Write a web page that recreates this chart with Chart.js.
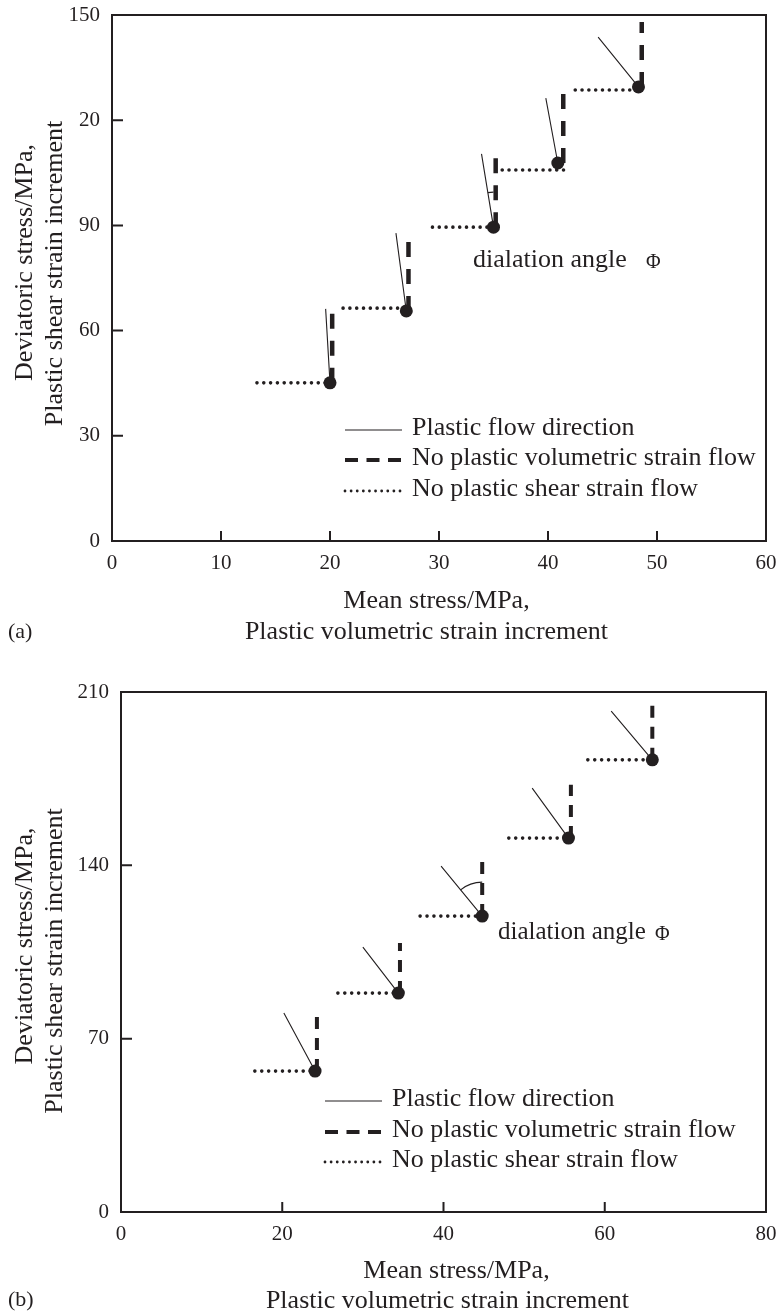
<!DOCTYPE html>
<html>
<head>
<meta charset="utf-8">
<title>Plastic flow directions</title>
<script src="https://cdn.jsdelivr.net/npm/chart.js@4.4.1/dist/chart.umd.min.js"></script>
<style>
  html, body { margin: 0; padding: 0; background: #ffffff; overflow: hidden; }
  .panel { position: absolute; left: 0; width: 777px; }
  #panelA { top: 0; height: 660px; }
  #panelB { top: 650px; height: 680px; }
</style>
</head>
<body>
<div id="panelA" class="panel"><canvas id="chartA" width="777" height="660"></canvas></div>
<div id="panelB" class="panel"><canvas id="chartB" width="777" height="680"></canvas></div>
<script>
// ---------- panel (a) ----------
const meanA       = [20.0, 27.0, 35.0, 40.9, 48.3];     // mean stress at each yield point
const devA        = [45.1, 65.6, 89.5, 107.8, 129.5];   // deviatoric stress at each yield point
const shearFromA  = [13.3, 21.2, 29.4, 35.8, 42.5];     // horizontal (no shear strain) segment, left end
const shearToA    = [20.0, 27.0, 35.0, 41.7, 48.4];     // horizontal segment, right end
const shearLevelA = [45.1, 66.4, 89.5, 105.8, 128.6];   // horizontal segment level
const volXA       = [20.2, 27.2, 35.2, 41.4, 48.6];     // vertical (no volumetric strain) segment position
const volTopA     = [66.4, 88.7, 110.9, 127.7, 148.0];  // vertical segment, upper end
const flowTipXA   = [19.6, 26.05, 33.9, 39.8, 44.6];    // plastic flow direction, end point
const flowTipYA   = [66.2, 87.8, 110.4, 126.3, 143.7];
const xTicksA     = [0, 10, 20, 30, 40, 50, 60];
const yTicksA     = [0, 30, 60, 90, 120, 150];
const yTickLabelsA = ['0', '30', '60', '90', '20', '150'];

// ---------- panel (b) ----------
const meanB       = [24.07, 34.4, 44.8, 55.5, 65.9];
const devB        = [56.9, 88.4, 119.5, 151.0, 182.6];
const shearFromB  = [16.6, 26.9, 37.1, 48.1, 57.9];
const shearToB    = [24.07, 34.4, 44.8, 55.5, 65.9];
const shearLevelB = [56.9, 88.4, 119.5, 151.0, 182.6];
const volXB       = [24.3, 34.6, 44.8, 55.8, 65.9];
const volTopB     = [80.4, 108.6, 141.4, 172.5, 204.8];
const flowTipXB   = [20.2, 30.0, 39.7, 51.0, 60.8];
const flowTipYB   = [80.4, 107.0, 139.7, 171.2, 202.3];
const xTicksB     = [0, 20, 40, 60, 80];
const yTicksB     = [0, 70, 140, 210];
const yTickLabelsB = ['0', '70', '140', '210'];

// ---------- shared text ----------
const legendLabels = ['Plastic flow direction', 'No plastic volumetric strain flow', 'No plastic shear strain flow'];
const xTitle = ['Mean stress/MPa,', 'Plastic volumetric strain increment'];
const yTitle = ['Deviatoric stress/MPa,', 'Plastic shear strain increment'];
const noteText = 'dialation angle';
const noteSymbol = '\u03A6';

const FONT = "'Liberation Serif', 'Times New Roman', Times, serif";
const INK = '#231f20';

// Builds the point, segment and flow-direction series for one panel.
function buildDatasets(d) {
  const points = d.mean.map((x, i) => ({ x, y: d.dev[i] }));
  const shear = [], vol = [], flow = [];
  d.mean.forEach((x, i) => {
    shear.push({ x: d.shearFrom[i], y: d.shearLevel[i] }, { x: d.shearTo[i], y: d.shearLevel[i] }, { x: d.shearTo[i], y: null });
    vol.push({ x: d.volX[i], y: d.dev[i] }, { x: d.volX[i], y: d.volTop[i] }, { x: d.volX[i], y: null });
    flow.push({ x, y: d.dev[i] }, { x: d.tipX[i], y: d.tipY[i] }, { x: d.tipX[i], y: null });
  });
  const lineBase = { showLine: true, pointRadius: 0, pointHoverRadius: 0, pointHitRadius: 0, spanGaps: false, tension: 0, fill: false };
  return [
    { label: 'points', data: points, showLine: false, pointRadius: 6.5, pointHoverRadius: 6.5,
      pointBackgroundColor: INK, pointBorderWidth: 0, backgroundColor: INK },
    Object.assign({ label: legendLabels[0], data: flow, borderColor: INK, borderWidth: 1.1 }, lineBase),
    Object.assign({ label: legendLabels[1], data: vol, borderColor: INK, borderWidth: d.dashWidth,
      borderDash: d.dash, borderCapStyle: 'butt' }, lineBase),
    Object.assign({ label: legendLabels[2], data: shear, borderColor: INK, borderWidth: 3.6,
      borderDash: [0.01, d.dotGap], borderCapStyle: 'round' }, lineBase)
  ];
}

// Frame, inward tick marks, axis titles, in-plot legend, dilation-angle note and panel tag.
const overlayPlugin = {
  id: 'overlay',
  afterDatasetsDraw(chart, args, o) {
    const ctx = chart.ctx;
    const { left, right, top, bottom } = chart.chartArea;
    const xs = chart.scales.x, ys = chart.scales.y;
    ctx.save();
    ctx.strokeStyle = INK;
    ctx.fillStyle = INK;

    // inward ticks
    ctx.lineWidth = 2;
    ctx.setLineDash([]);
    ctx.beginPath();
    xs.ticks.forEach(t => {
      const px = xs.getPixelForValue(t.value);
      ctx.moveTo(px, bottom); ctx.lineTo(px, bottom - o.tickLen);
    });
    ys.ticks.forEach(t => {
      const py = ys.getPixelForValue(t.value);
      ctx.moveTo(left, py); ctx.lineTo(left + o.tickLen + 1, py);
    });
    ctx.stroke();

    // frame
    ctx.lineWidth = 2;
    ctx.strokeRect(left, top, right - left, bottom - top);

    // dilation angle arc at the chosen yield point
    const ds = chart.data.datasets;
    const p = ds[0].data[o.arc.index];
    const tip = ds[1].data[o.arc.index * 3 + 1];
    const cx = xs.getPixelForValue(p.x), cy = ys.getPixelForValue(p.y);
    const a0 = Math.atan2(ys.getPixelForValue(tip.y) - cy, xs.getPixelForValue(tip.x) - cx);
    ctx.lineWidth = 1.1;
    ctx.beginPath();
    ctx.arc(cx, cy, o.arc.r, a0, -Math.PI / 2);
    ctx.stroke();

    // axis titles, two lines each
    ctx.font = '26px ' + FONT;
    ctx.textBaseline = 'middle';
    ctx.textAlign = 'center';
    xTitle.forEach((line, i) => ctx.fillText(line, o.xTitle.cx[i], o.xTitle.cy[i]));
    yTitle.forEach((line, i) => {
      ctx.save();
      ctx.translate(o.yTitle.cx[i], o.yTitle.cy[i]);
      ctx.rotate(-Math.PI / 2);
      ctx.fillText(line, 0, 0);
      ctx.restore();
    });

    // legend
    const L = o.legend;
    ctx.textAlign = 'left';
    L.rows.forEach((y, i) => {
      ctx.beginPath();
      if (i === 0) { ctx.lineWidth = 1.1; ctx.setLineDash([]); ctx.lineCap = 'butt'; }
      if (i === 1) { ctx.lineWidth = 4; ctx.setLineDash([13, 8.5]); ctx.lineCap = 'butt'; }
      if (i === 2) { ctx.lineWidth = 2.8; ctx.setLineDash([0.01, 6.1]); ctx.lineCap = 'round'; }
      ctx.moveTo(L.x0, y); ctx.lineTo(L.x1, y);
      ctx.stroke();
      ctx.setLineDash([]);
      ctx.fillText(ds[i + 1].label, L.textX, y - 2);
    });

    // note
    ctx.font = o.note.size + 'px ' + FONT;
    ctx.fillText(noteText, o.note.x, o.note.y);
    ctx.font = '20px ' + FONT;
    ctx.fillText(noteSymbol, o.note.symX, o.note.y + 3);

    // panel tag
    ctx.font = '22px ' + FONT;
    ctx.fillText(o.tag.text, o.tag.x, o.tag.y);
    ctx.restore();
  }
};

// Scales keep their fixed box; label overhang must not shrink the plot area.
function clearPadding(s) {
  s.paddingTop = 0; s.paddingBottom = 0; s.paddingLeft = 0; s.paddingRight = 0;
}

function makeChart(id, d) {
  return new Chart(document.getElementById(id), {
    type: 'scatter',
    data: { datasets: buildDatasets(d) },
    plugins: [overlayPlugin],
    options: {
      responsive: false,
      devicePixelRatio: 1,
      animation: false,
      events: [],
      layout: { padding: { left: 0, right: 11, top: d.padTop, bottom: 0 } },
      plugins: {
        legend: { display: false },
        tooltip: { enabled: false },
        overlay: d.overlay
      },
      scales: {
        x: {
          type: 'linear', position: 'bottom', min: d.xTicks[0], max: d.xTicks[d.xTicks.length - 1],
          afterBuildTicks: s => { s.ticks = d.xTicks.map(v => ({ value: v })); },
          afterFit: s => { s.height = d.xAxisHeight; clearPadding(s); },
          grid: { display: false, drawTicks: false },
          border: { display: false },
          ticks: { padding: 10, color: INK, font: { family: FONT, size: 21 }, autoSkip: false, maxRotation: 0 },
          title: { display: false }
        },
        y: {
          type: 'linear', position: 'left', min: d.yTicks[0], max: d.yTicks[d.yTicks.length - 1],
          afterBuildTicks: s => { s.ticks = d.yTicks.map(v => ({ value: v })); },
          afterFit: s => { s.width = d.yAxisWidth; clearPadding(s); },
          grid: { display: false, drawTicks: false },
          border: { display: false },
          ticks: { padding: 12, color: INK, font: { family: FONT, size: 21 }, autoSkip: false,
            callback: v => d.yTickLabels[d.yTicks.indexOf(v)] },
          title: { display: false }
        }
      }
    }
  });
}

makeChart('chartA', {
  mean: meanA, dev: devA, shearFrom: shearFromA, shearTo: shearToA, shearLevel: shearLevelA,
  volX: volXA, volTop: volTopA, tipX: flowTipXA, tipY: flowTipYA,
  xTicks: xTicksA, yTicks: yTicksA, yTickLabels: yTickLabelsA,
  dash: [15, 12], dashWidth: 4.5, dotGap: 6.8,
  padTop: 15, xAxisHeight: 119, yAxisWidth: 112,
  overlay: {
    tickLen: 10,
    arc: { index: 2, r: 35 },
    xTitle: { cx: [436.5, 426.5], cy: [601.5, 632] },
    yTitle: { cx: [25, 55.5], cy: [262.5, 273.5] },
    legend: { x0: 345, x1: 402, textX: 412, rows: [430, 460, 491] },
    note: { x: 473, y: 260, size: 26, symX: 646 },
    tag: { text: '(a)', x: 8, y: 632 }
  }
});

makeChart('chartB', {
  mean: meanB, dev: devB, shearFrom: shearFromB, shearTo: shearToB, shearLevel: shearLevelB,
  volX: volXB, volTop: volTopB, tipX: flowTipXB, tipY: flowTipYB,
  xTicks: xTicksB, yTicks: yTicksB, yTickLabels: yTickLabelsB,
  dash: [12, 9], dashWidth: 4, dotGap: 6.9,
  padTop: 42, xAxisHeight: 118, yAxisWidth: 121,
  overlay: {
    tickLen: 10,
    arc: { index: 2, r: 34 },
    xTitle: { cx: [456.5, 447.5], cy: [621, 651] },
    yTitle: { cx: [25, 55.5], cy: [296, 311] },
    legend: { x0: 325, x1: 382, textX: 392, rows: [451, 482, 512] },
    note: { x: 498, y: 282, size: 25, symX: 655 },
    tag: { text: '(b)', x: 8, y: 650 }
  }
});
</script>
</body>
</html>
